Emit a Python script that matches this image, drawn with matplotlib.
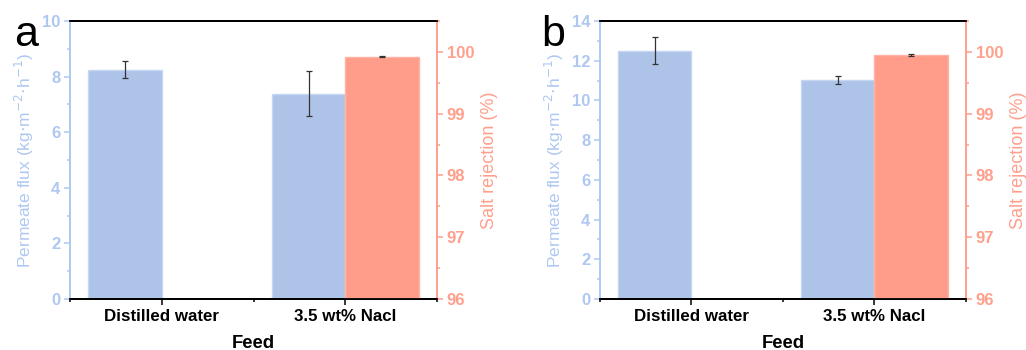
import matplotlib
matplotlib.use("Agg")
import matplotlib.pyplot as plt
from matplotlib.ticker import MultipleLocator, FixedLocator
import numpy as np

plt.rcParams['font.family'] = ['Liberation Sans', 'DejaVu Sans']

categories = ['Distilled water', '3.5 wt% Nacl']
# panel a
flux_a = [8.25, 7.39]
flux_a_err = [0.31, 0.81]
rej_a = [99.92]
rej_a_err = [0.01]
# panel b
flux_b = [12.51, 11.03]
flux_b_err = [0.69, 0.18]
rej_b = [99.955]
rej_b_err = [0.015]

BLUE = '#AEC3E8'
BLUE_EDGE = '#C6D7F4'
BLUE_AX = '#AFC8F2'
RED = '#FF9D8A'
RED_EDGE = '#FFB3A4'
RED_AX = '#FF9F8C'

fig = plt.figure(figsize=(10.26, 3.5), dpi=100)

def panel(rect, flux, flux_err, rej, rej_err, fmax):
    ax = fig.add_axes(rect)
    ax2 = ax.twinx()
    x = np.arange(1, len(categories) + 1)
    w = 0.4
    ax.bar(x - w, flux, width=w, align='edge', color=BLUE, edgecolor=BLUE_EDGE, linewidth=1, zorder=2)
    ax.errorbar(x - w / 2, flux, yerr=flux_err, fmt='none', ecolor='#333333',
                elinewidth=0.9, capsize=2.5, capthick=0.9, zorder=3)
    xr = x[1:]
    ax2.bar(xr, rej, width=w, align='edge', color=RED, edgecolor=RED_EDGE, linewidth=1, zorder=2)
    ax2.errorbar(xr + w / 2, rej, yerr=rej_err, fmt='none', ecolor='#333333',
                 elinewidth=0.9, capsize=2.5, capthick=0.9, zorder=3)

    ax.set_xlim(0.5, 2.5)
    ax.set_ylim(0, fmax)
    ax2.set_ylim(96, 100.5)
    ax.set_xticks(x)
    ax.set_xticklabels(categories, fontsize=12.2, fontweight='bold')
    ax.xaxis.set_minor_locator(FixedLocator([0.5, 1.5, 2.5]))
    ax.yaxis.set_major_locator(MultipleLocator(2))
    ax.yaxis.set_minor_locator(MultipleLocator(1))
    ax2.yaxis.set_major_locator(MultipleLocator(1))
    ax2.yaxis.set_minor_locator(MultipleLocator(0.5))

    for a in (ax, ax2):
        a.spines['top'].set_color('black')
        a.spines['top'].set_linewidth(1.3)
        a.spines['bottom'].set_color('black')
        a.spines['bottom'].set_linewidth(1.3)
        a.spines['left'].set_color(BLUE_AX)
        a.spines['left'].set_linewidth(1.2)
        a.spines['right'].set_color(RED_AX)
        a.spines['right'].set_linewidth(1.2)

    ax.tick_params(axis='x', which='major', direction='out', length=4, width=1.1,
                   color='black', pad=3)
    ax.tick_params(axis='x', which='minor', direction='out', length=2.5, width=1.1, color='black')
    ax.tick_params(axis='y', which='major', direction='out', length=4, width=1.1, pad=3,
                   color=BLUE_AX, labelcolor=BLUE_AX, labelsize=12)
    ax.tick_params(axis='y', which='minor', direction='out', length=2.5, width=1.1, color=BLUE_AX)
    for lab in ax.get_yticklabels():
        lab.set_fontweight('bold')
    ax2.tick_params(axis='y', which='major', direction='out', length=4, width=1.1, pad=3,
                    color=RED_AX, labelcolor=RED_AX, labelsize=12)
    ax2.tick_params(axis='y', which='minor', direction='out', length=2.5, width=1.1, color=RED_AX)
    for lab in ax2.get_yticklabels():
        lab.set_fontweight('bold')

    ax.set_xlabel('Feed', fontsize=13.3, fontweight='bold', labelpad=8)
    ax.set_ylabel('Permeate flux (kg$\\cdot$m$^{-2}$$\\cdot$h$^{-1}$)', fontsize=12.5,
                  color=BLUE_AX, labelpad=4)
    ax2.set_ylabel('Salt rejection (%)', fontsize=13, color=RED_AX, labelpad=5)
    return ax

axa = panel([0.0682, 0.1457, 0.3578, 0.7943], flux_a, flux_a_err, rej_a, rej_a_err, 10)
axb = panel([0.5848, 0.1457, 0.3567, 0.7943], flux_b, flux_b_err, rej_b, rej_b_err, 14)

fig.text(0.014, 0.87, 'a', fontsize=31, color='black')
fig.text(0.528, 0.87, 'b', fontsize=31, color='black')

fig.savefig('out.png', dpi=100)
